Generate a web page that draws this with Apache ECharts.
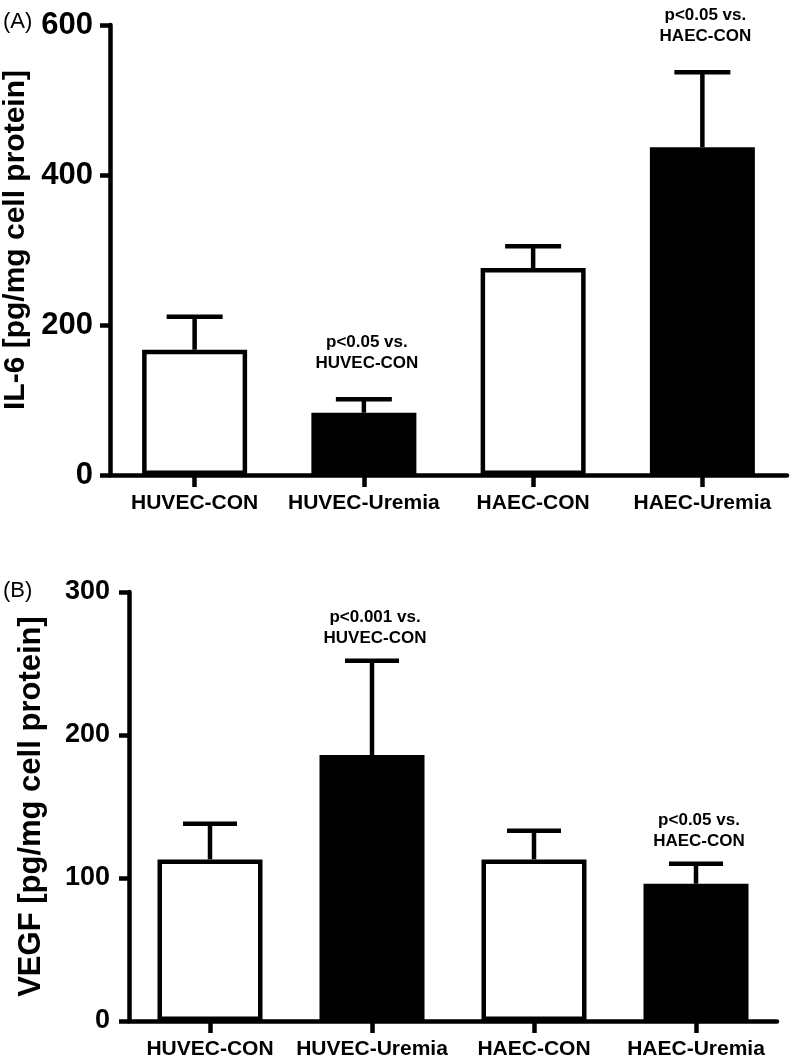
<!DOCTYPE html>
<html><head><meta charset="utf-8">
<script src="https://cdn.jsdelivr.net/npm/echarts@6/dist/echarts.min.js"></script>
<style>html,body{margin:0;padding:0;background:#fff}#c{width:792px;height:1062px}</style>
</head><body><div id="c"></div>
<script>
const categories = ['HUVEC-CON', 'HUVEC-Uremia', 'HAEC-CON', 'HAEC-Uremia'];
const il6Mean = [167, 83, 276, 437];
const il6Upper = [211, 101, 305, 537];
const vegfMean = [113, 186, 113, 96];
const vegfUpper = [138, 252, 133, 110];
const il6Notes = ['', 'p<0.05 vs.\nHUVEC-CON', '', 'p<0.05 vs.\nHAEC-CON'];
const vegfNotes = ['', 'p<0.001 vs.\nHUVEC-CON', '', 'p<0.05 vs.\nHAEC-CON'];
const il6Ticks = [0, 200, 400, 600];
const vegfTicks = [0, 100, 200, 300];
const barFill = ['#ffffff', '#000000', '#ffffff', '#000000'];
const il6Title = 'IL-6 [pg/mg cell protein]';
const vegfTitle = 'VEGF [pg/mg cell protein]';

const FONT = '"Liberation Sans", Arial, Helvetica, sans-serif';
const LW = 4.5;

function errRender(notes, capW, noteOff) {
  return function (params, api) {
    const i = api.value(0);
    const base = api.coord([i, api.value(1)]);
    const top = api.coord([i, api.value(2)]);
    const children = [
      { type: 'line', shape: { x1: top[0], y1: base[1], x2: top[0], y2: top[1] }, style: { stroke: '#000', lineWidth: LW } },
      { type: 'line', shape: { x1: top[0] - capW / 2, y1: top[1], x2: top[0] + capW / 2, y2: top[1] }, style: { stroke: '#000', lineWidth: LW } }
    ];
    if (notes[i]) {
      children.push({
        type: 'text', x: top[0] + 3, y: top[1] - noteOff,
        style: { text: notes[i], font: 'bold 17px ' + FONT, align: 'center', verticalAlign: 'bottom', lineHeight: 21, fill: '#000' }
      });
    }
    return { type: 'group', children };
  };
}

function yAxis(idx, ticks, title, labelSize, nameSize, nameGap, margin, pad) {
  return {
    type: 'value', gridIndex: idx,
    min: ticks[0], max: ticks[ticks.length - 1], interval: ticks[1] - ticks[0],
    name: title, nameLocation: 'middle', nameRotate: 90, nameGap: nameGap,
    nameTextStyle: { fontFamily: FONT, fontWeight: 'bold', fontSize: nameSize, color: '#000', padding: pad },
    axisLine: { show: true, lineStyle: { color: '#000', width: LW } },
    axisTick: { show: true, length: 10, lineStyle: { color: '#000', width: LW } },
    axisLabel: { fontFamily: FONT, fontWeight: 'bold', fontSize: labelSize, color: '#000', margin: margin },
    splitLine: { show: false }
  };
}

function xAxis(idx) {
  return {
    type: 'category', gridIndex: idx, data: categories,
    axisLine: { show: true, lineStyle: { color: '#000', width: LW } },
    axisTick: { show: true, alignWithLabel: true, interval: 0, length: 12, lineStyle: { color: '#000', width: LW } },
    axisLabel: { fontFamily: FONT, fontWeight: 'bold', fontSize: 21, color: '#000', margin: 18, interval: 0, hideOverlap: false }
  };
}

function barSeries(idx, vals) {
  return {
    type: 'bar', xAxisIndex: idx, yAxisIndex: idx, barWidth: 105,
    data: vals.map((v, i) => ({ value: v, itemStyle: { color: barFill[i] } })),
    itemStyle: { borderColor: '#000', borderWidth: LW },
    silent: true, animation: false, z: 2
  };
}

function errSeries(idx, mean, upper, notes, capW, noteOff) {
  return {
    type: 'custom', xAxisIndex: idx, yAxisIndex: idx,
    data: mean.map((m, i) => [i, m, upper[i]]),
    encode: { x: 0, y: [1, 2] },
    renderItem: errRender(notes, capW, noteOff),
    silent: true, animation: false, z: 3, clip: false
  };
}

const chart = echarts.init(document.getElementById('c'), null, { renderer: 'canvas' });
chart.setOption({
  backgroundColor: '#fff',
  animation: false,
  grid: [
    { left: 110, right: 5, top: 25, bottom: 587, outerBoundsMode: 'none', containLabel: false },
    { left: 129, right: 15, top: 592, bottom: 41, outerBoundsMode: 'none', containLabel: false }
  ],
  xAxis: [xAxis(0), xAxis(1)],
  yAxis: [
    yAxis(0, il6Ticks, il6Title, 31, 30, 78, 17, [0, 0, 0, 20]),
    yAxis(1, vegfTicks, vegfTitle, 27, 31, 82, 19, 0)
  ],
  series: [
    barSeries(0, il6Mean),
    errSeries(0, il6Mean, il6Upper, il6Notes, 56, 25),
    barSeries(1, vegfMean),
    errSeries(1, vegfMean, vegfUpper, vegfNotes, 54, 12)
  ],
  graphic: [
    { type: 'text', left: 3, top: 11, style: { text: '(A)', font: '22px ' + FONT, fill: '#000' } },
    { type: 'text', left: 3, top: 580, style: { text: '(B)', font: '22px ' + FONT, fill: '#000' } }
  ]
});
</script>
</body></html>
